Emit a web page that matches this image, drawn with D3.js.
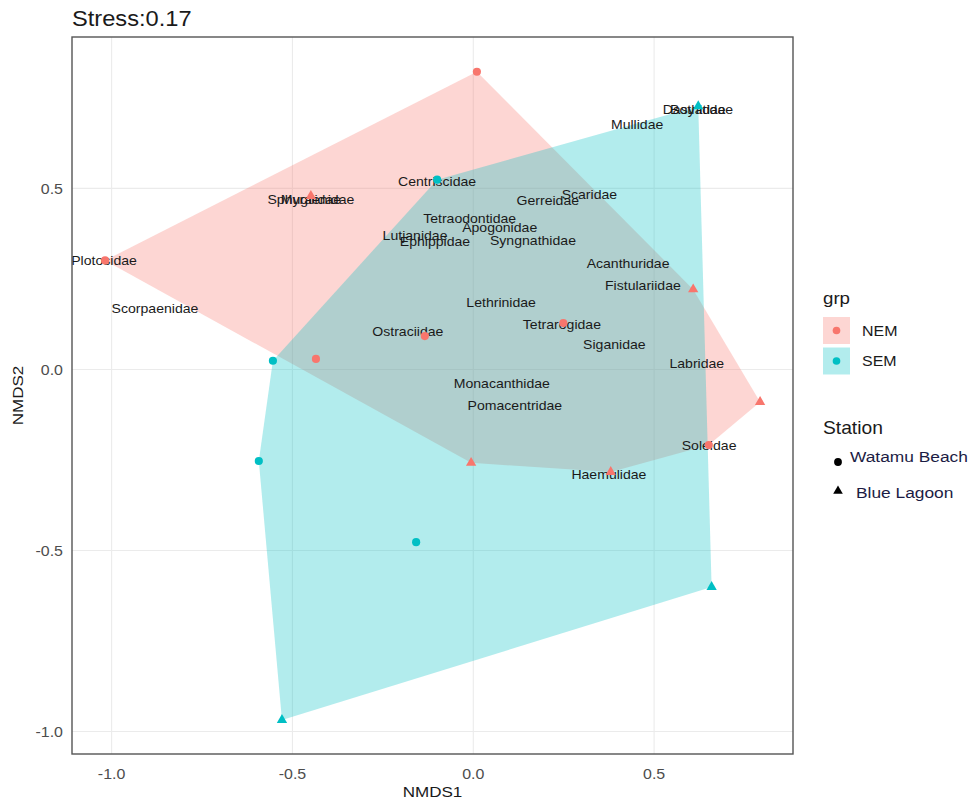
<!DOCTYPE html>
<html>
<head>
<meta charset="utf-8">
<script src="https://cdn.jsdelivr.net/npm/d3@7"></script>
<style>
  body { margin: 0; background: #fff; }
  svg { display: block; }
  text { font-family: "Liberation Sans", Arial, sans-serif; }
</style>
</head>
<body>
<svg id="chart" width="974" height="805"></svg>
<script>
// ---- site scores (NMDS ordination) ----
const siteNMDS1   = [0.010, -0.449, -1.018, -0.435, -0.134, 0.249, 0.608, 0.793, 0.651, -0.006, 0.380,
                     0.622, -0.100, -0.554, -0.593, -0.158, -0.529, 0.659];
const siteNMDS2   = [0.822, 0.479, 0.301, 0.029, 0.092, 0.128, 0.221, -0.090, -0.209, -0.258, -0.283,
                     0.727, 0.524, 0.024, -0.253, -0.477, -0.968, -0.601];
const siteGrp     = ["NEM","NEM","NEM","NEM","NEM","NEM","NEM","NEM","NEM","NEM","NEM",
                     "SEM","SEM","SEM","SEM","SEM","SEM","SEM"];
const siteStation = ["Watamu Beach","Blue Lagoon","Watamu Beach","Watamu Beach","Watamu Beach","Watamu Beach",
                     "Blue Lagoon","Blue Lagoon","Watamu Beach","Blue Lagoon","Blue Lagoon",
                     "Blue Lagoon","Watamu Beach","Watamu Beach","Watamu Beach","Watamu Beach","Blue Lagoon","Blue Lagoon"];

// ---- species scores ----
const speciesNames = ["Dasyatidae","Bothidae","Mullidae","Centriscidae","Scaridae","Gerreidae",
                      "Sphyraenidae","Mugilidae","Tetraodontidae","Apogonidae","Lutjanidae","Ephippidae",
                      "Syngnathidae","Plotosidae","Acanthuridae","Fistulariidae","Scorpaenidae","Lethrinidae",
                      "Tetrarogidae","Ostraciidae","Siganidae","Labridae","Monacanthidae","Pomacentridae",
                      "Soleidae","Haemulidae"];
const speciesNMDS1 = [0.621, 0.621, 0.453, -0.100, 0.321, 0.206,
                      -0.449, -0.449, -0.010, 0.073, -0.161, -0.106,
                      0.165, -1.021, 0.428, 0.469, -0.880, 0.077,
                      0.245, -0.181, 0.390, 0.618, 0.079, 0.115,
                      0.652, 0.375];
const speciesNMDS2 = [0.718, 0.718, 0.677, 0.519, 0.482, 0.467,
                      0.469, 0.469, 0.418, 0.391, 0.371, 0.352,
                      0.355, 0.300, 0.292, 0.233, 0.167, 0.184,
                      0.123, 0.106, 0.068, 0.015, -0.040, -0.101,
                      -0.209, -0.291];

// ---- axes ----
const xTicks = [-1.0, -0.5, 0.0, 0.5];
const yTicks = [-1.0, -0.5, 0.0, 0.5];
const xDomain = [-1.1095, 0.884];
const yDomain = [-1.062, 0.918];

const grpLevels = ["NEM", "SEM"];
const stationLevels = ["Watamu Beach", "Blue Lagoon"];
const titleText = "Stress:0.17";

const colour = d3.scaleOrdinal().domain(grpLevels).range(["#F8766D", "#00BFC4"]);
const shape = d3.scaleOrdinal().domain(stationLevels).range([d3.symbolCircle, d3.symbolTriangle]);
const shapeSize = d3.scaleOrdinal().domain(stationLevels).range([52, 46]);

const SX = 1.1; // horizontal text stretch
const panel = { left: 72, right: 793, top: 37, bottom: 754 };

const svg = d3.select("#chart");
const x = d3.scaleLinear().domain(xDomain).range([panel.left, panel.right]);
const y = d3.scaleLinear().domain(yDomain).range([panel.bottom, panel.top]);

const sites = siteNMDS1.map((v, i) => ({ x: v, y: siteNMDS2[i], grp: siteGrp[i], station: siteStation[i] }));
const species = speciesNames.map((n, i) => ({ name: n, x: speciesNMDS1[i], y: speciesNMDS2[i] }));

// panel background
svg.append("rect")
  .attr("x", panel.left).attr("y", panel.top)
  .attr("width", panel.right - panel.left).attr("height", panel.bottom - panel.top)
  .attr("fill", "#fff");

// grid lines
const grid = svg.append("g");
grid.selectAll("line.v").data(xTicks).join("line")
  .attr("x1", d => x(d)).attr("x2", d => x(d))
  .attr("y1", panel.top).attr("y2", panel.bottom)
  .attr("stroke", "#ebebeb").attr("stroke-width", 1.1);
grid.selectAll("line.h").data(yTicks).join("line")
  .attr("y1", d => y(d)).attr("y2", d => y(d))
  .attr("x1", panel.left).attr("x2", panel.right)
  .attr("stroke", "#ebebeb").attr("stroke-width", 1.1);

// convex hulls per group
const hulls = svg.append("g");
grpLevels.forEach(g => {
  const pts = sites.filter(s => s.grp === g).map(s => [x(s.x), y(s.y)]);
  const hull = d3.polygonHull(pts);
  hulls.append("path")
    .attr("d", "M" + hull.join("L") + "Z")
    .attr("fill", colour(g))
    .attr("fill-opacity", 0.3);
});

// species labels
svg.append("g").selectAll("text").data(species).join("text")
  .attr("transform", d => `translate(${x(d.x)},${y(d.y)}) scale(${SX},1)`)
  .attr("text-anchor", "middle")
  .attr("dy", "0.35em")
  .attr("font-size", 12.8)
  .attr("fill", "#1a1a1a")
  .text(d => d.name);

// site points
svg.append("g").selectAll("path").data(sites).join("path")
  .attr("transform", d => `translate(${x(d.x)},${y(d.y)})`)
  .attr("d", d => d3.symbol().type(shape(d.station)).size(shapeSize(d.station))())
  .attr("fill", d => colour(d.grp));

// panel border
svg.append("rect")
  .attr("x", panel.left).attr("y", panel.top)
  .attr("width", panel.right - panel.left).attr("height", panel.bottom - panel.top)
  .attr("fill", "none").attr("stroke", "#555").attr("stroke-width", 1.4);

// tick labels
const fmt = d3.format(".1f");
svg.append("g").selectAll("text").data(xTicks).join("text")
  .attr("transform", d => `translate(${x(d)},779) scale(${SX},1)`)
  .attr("text-anchor", "middle")
  .attr("font-size", 14.5).attr("fill", "#4d4d4d")
  .text(d => fmt(d).replace("−", "-"));
svg.append("g").selectAll("text").data(yTicks).join("text")
  .attr("transform", d => `translate(63,${y(d)}) scale(${SX},1)`)
  .attr("text-anchor", "end").attr("dy", "0.36em")
  .attr("font-size", 14.5).attr("fill", "#4d4d4d")
  .text(d => fmt(d).replace("−", "-"));

// axis titles
svg.append("text")
  .attr("transform", `translate(${(panel.left + panel.right) / 2},797) scale(${SX},1)`)
  .attr("text-anchor", "middle").attr("font-size", 15.5).attr("fill", "#1a1a1a")
  .text("NMDS1");
svg.append("text")
  .attr("transform", `translate(23,${(panel.top + panel.bottom) / 2}) rotate(-90) scale(${SX},1)`)
  .attr("text-anchor", "middle").attr("font-size", 15.5).attr("fill", "#1a1a1a")
  .text("NMDS2");

// plot title
svg.append("text")
  .attr("transform", `translate(72,25.5) scale(${SX},1)`)
  .attr("font-size", 21.5).attr("fill", "#1a1a1a")
  .text(titleText);

// legend: grp
const lg = svg.append("g");
lg.append("text").attr("transform", `translate(823,304) scale(${SX},1)`)
  .attr("font-size", 17).attr("fill", "#1a1a1a").text("grp");
grpLevels.forEach((g, i) => {
  const top = 317 + i * 30.5;
  lg.append("rect").attr("x", 823).attr("y", top).attr("width", 27).attr("height", 27)
    .attr("fill", colour(g)).attr("fill-opacity", 0.3);
  lg.append("path").attr("transform", `translate(836.5,${top + 13.5})`)
    .attr("d", d3.symbol().type(d3.symbolCircle).size(46)()).attr("fill", colour(g));
  lg.append("text").attr("transform", `translate(862,${top + 13.5}) scale(${SX},1)`)
    .attr("dy", "0.36em").attr("font-size", 14.5).attr("fill", "#1a1a1a").text(g);
});

// legend: Station
lg.append("text").attr("transform", `translate(823,434) scale(${SX},1)`)
  .attr("font-size", 17.5).attr("fill", "#1a1a1a").text("Station");
const stY = [462, 491];
const stTextX = [850, 856];
const stTextY = [462, 498];
stationLevels.forEach((s, i) => {
  lg.append("path").attr("transform", `translate(838,${stY[i]})`)
    .attr("d", d3.symbol().type(shape(s)).size(i === 0 ? 48 : 40)()).attr("fill", "#000");
  lg.append("text").attr("transform", `translate(${stTextX[i]},${stTextY[i]}) scale(1.12,1)`)
    .attr("font-family", "'Open Sans', sans-serif")
    .attr("font-size", 15.5).attr("fill", "#1c1c44")
    .text(s);
});
</script>
</body>
</html>
